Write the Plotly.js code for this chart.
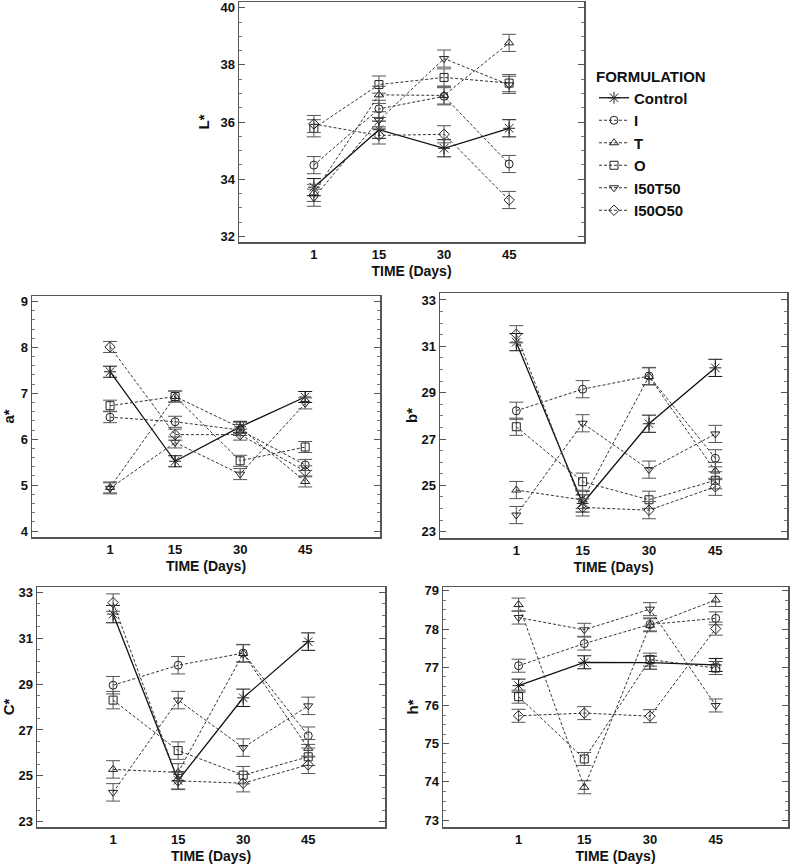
<!DOCTYPE html>
<html><head><meta charset="utf-8">
<script src="https://cdn.plot.ly/plotly-3.0.1.min.js"></script>
<style>html,body{margin:0;padding:0;background:#fff}</style>
</head><body><div id="chart" style="width:794px;height:867px"></div>
<script>
// ---- data ----
const days = ['1','15','30','45'];
const formulations = ['Control','I','T','O','I50T50','I50O50'];

const L_Control=[33.72,35.73,35.08,35.78];
const L_I=[34.49,36.46,36.90,34.53];
const L_T=[33.52,36.95,36.93,38.77];
const L_O=[35.78,37.31,37.56,37.36];
const L_I50T50=[33.35,36.06,38.22,37.30];
const L_I50O50=[35.93,35.53,35.57,33.27];

const a_Control=[7.47,5.52,6.27,6.92];
const a_I=[6.48,6.38,6.20,5.44];
const a_T=[4.95,6.93,6.25,5.08];
const a_O=[6.73,6.93,5.53,5.83];
const a_I50T50=[4.93,5.93,5.24,6.78];
const a_I50O50=[8.01,6.10,6.10,5.30];

const b_Control=[31.18,24.22,27.66,30.07];
const b_I=[28.22,29.15,29.72,26.17];
const b_T=[24.80,24.37,29.70,25.62];
const b_O=[27.53,25.16,24.38,25.22];
const b_I50T50=[23.72,27.68,25.68,27.22];
const b_I50O50=[31.52,24.05,23.93,24.94];

const C_Control=[32.05,24.80,28.40,30.85];
const C_I=[28.95,29.82,30.35,26.75];
const C_T=[25.28,25.15,30.33,26.20];
const C_O=[28.30,26.10,25.03,25.83];
const C_I50T50=[24.28,28.30,26.23,28.05];
const C_I50O50=[32.55,24.78,24.68,25.48];

const h_Control=[76.52,77.13,77.12,77.06];
const h_I=[77.04,77.62,78.12,78.28];
const h_T=[78.64,73.86,78.10,78.76];
const h_O=[76.23,74.60,77.20,76.98];
const h_I50T50=[78.30,77.98,78.52,76.00];
const h_I50O50=[75.73,75.80,75.72,78.01];

// half-width of error bars per panel (L*, a*, b*, C*, h*)
const errorHalf=[0.30,0.12,0.37,0.38,0.17];

const panelNames=['L*','a*','b*','C*','h*'];
const panelData=[
  [L_Control,L_I,L_T,L_O,L_I50T50,L_I50O50],
  [a_Control,a_I,a_T,a_O,a_I50T50,a_I50O50],
  [b_Control,b_I,b_T,b_O,b_I50T50,b_I50O50],
  [C_Control,C_I,C_T,C_O,C_I50T50,C_I50O50],
  [h_Control,h_I,h_T,h_O,h_I50T50,h_I50O50]
];

// ---- styling ----
const FONT='"Liberation Sans", Arial, sans-serif';
const symbols=['asterisk-open','circle-open','triangle-up-open','square-open','triangle-down-open','diamond-open'];

const traces=[];
panelData.forEach((series,p)=>{
  const xa = p===0?'x':'x'+(p+1);
  const ya = p===0?'y':'y'+(p+1);
  series.forEach((vals,s)=>{
    const ctrl = s===0;
    traces.push({
      type:'scatter', mode:'lines+markers',
      x:days, y:vals, xaxis:xa, yaxis:ya,
      name:formulations[s], legendgroup:formulations[s], showlegend:p===0,
      line:{color:ctrl?'#111':'#333', width:ctrl?1.3:1, dash:ctrl?'solid':'3px,2px'},
      marker:{symbol:symbols[s], size:ctrl?10:8, color:'#222', line:{color:'#222', width:1}},
      error_y:{type:'constant', value:errorHalf[p], color:ctrl?'#111':'#555', thickness:1, width:7}
    });
  });
});

const doms=[
  {x:[239/794,584/794], y:[1-242/867,1-2/867], r:[31.8,40.2], d:2, t0:0, m:0.5, xr:[-1.15,4.15], so:7},
  {x:[32/794,380/794], y:[1-537/867,1-296/867], r:[3.87,9.12], d:1, t0:0, m:0.2, xr:[-1.2,4.15], so:10},
  {x:[440/794,787/794], y:[1-538/867,1-293/867], r:[22.73,33.3], d:2, t0:1, m:0.5, xr:[-1.15,4.08], so:0},
  {x:[37/794,385/794], y:[1-827/867,1-587/867], r:[22.77,33.23], d:2, t0:1, m:0.5, xr:[-1.17,4.18], so:11},
  {x:[443/794,788/794], y:[1-827/867,1-587/867], r:[72.82,79.1], d:1, t0:0, m:0.25, xr:[-1.15,4.1], so:2}
];

const layout={
  width:794, height:867, margin:{l:0,r:0,t:0,b:0},
  paper_bgcolor:'#fff', plot_bgcolor:'#fff',
  font:{family:FONT, color:'#111'},
  showlegend:true,
  legend:{x:594/794, y:1-62/867, xanchor:'left', yanchor:'top',
    title:{text:'FORMULATION', font:{family:FONT,size:15,weight:'bold',color:'#111'}},
    font:{family:FONT,size:15,weight:'bold',color:'#111'}, tracegroupgap:0, bgcolor:'rgba(0,0,0,0)'}
};

doms.forEach((d,p)=>{
  const xk = p===0?'xaxis':'xaxis'+(p+1);
  const yk = p===0?'yaxis':'yaxis'+(p+1);
  const xa = p===0?'x':'x'+(p+1);
  const ya = p===0?'y':'y'+(p+1);
  layout[xk]={domain:d.x, anchor:ya, type:'category', categoryorder:'array', categoryarray:days,
    range:d.xr, showline:true, mirror:true, linecolor:'#555', linewidth:1.5, ticks:'',
    showgrid:false, zeroline:false, automargin:false,
    tickfont:{family:FONT,size:13,weight:'bold',color:'#111'},
    title:{text:'TIME (Days)', font:{family:FONT,size:14,weight:'bold',color:'#111'}, standoff:5}};
  layout[yk]={domain:d.y, anchor:xa, range:d.r, dtick:d.d, tick0:d.t0,
    ticks:'inside', ticklen:6, tickwidth:1, tickcolor:'#555',
    minor:{dtick:d.m, tick0:d.t0, ticks:'inside', ticklen:3, tickcolor:'#777', showgrid:false},
    showline:true, mirror:'ticks', linecolor:'#555', linewidth:1.5,
    showgrid:false, zeroline:false, automargin:false,
    tickfont:{family:FONT,size:13,weight:'bold',color:'#111'},
    title:{text:panelNames[p], font:{family:FONT,size:15,weight:'bold',color:'#111'}, standoff:d.so}};
});

Plotly.newPlot('chart', traces, layout, {displayModeBar:false, staticPlot:true});
</script>
</body></html>
